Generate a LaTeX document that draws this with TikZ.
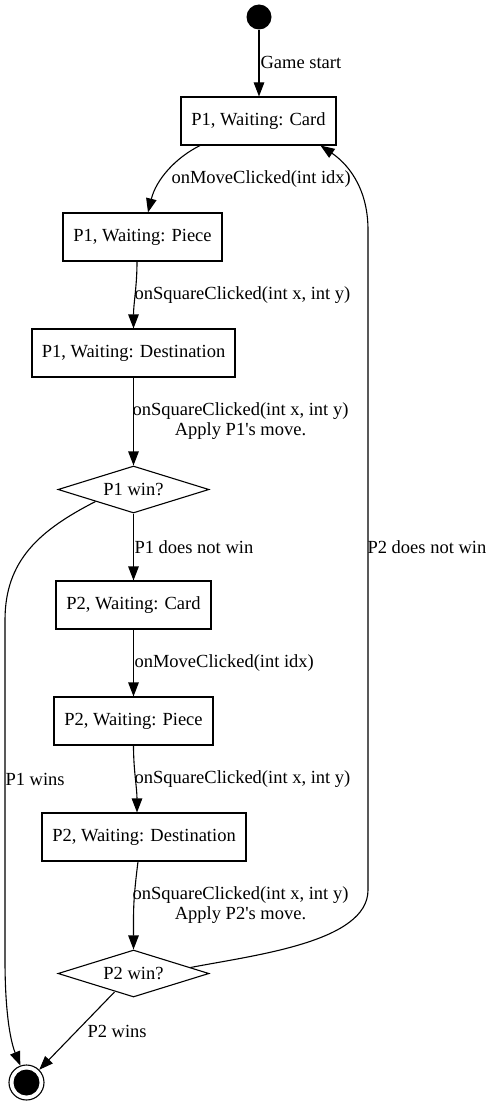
\documentclass[tikz,border=0pt]{standalone}
\usepackage{fontspec}
\setmainfont{Liberation Serif}
\newfontfamily\plainserif{Liberation Serif}[Ligatures=ResetAll]
\usetikzlibrary{arrows.meta,shapes.geometric,calc}
\begin{document}
\begin{tikzpicture}[x=1pt,y=-1pt,line width=1.1pt,
  every node/.style={font=\plainserif\fontsize{18.5}{20}\selectfont},
  state/.style={draw,rectangle,minimum height=48,inner sep=0},
  choice/.style={draw,diamond,aspect=3.2,minimum width=151,minimum height=47,inner sep=0},
  lbl/.style={inner sep=0,anchor=west},
  clbl/.style={inner sep=0,align=center},
  edge/.style={-{Triangle[length=14,width=10.5]}}]
\useasboundingbox (0,0) rectangle (489,1105);
% nodes
\node[circle,fill,minimum size=25,inner sep=0] (start) at (259,17) {};
\node[state,minimum width=155] (p1c) at (258.5,121) {P1, Waiting: Card};
\node[state,minimum width=159] (p1p) at (142.5,237) {P1, Waiting: Piece};
\node[state,minimum width=203] (p1d) at (133.5,353) {P1, Waiting: Destination};
\node[choice] (p1w) at (133.5,489.5) {P1 win?};
\node[state,minimum width=155] (p2c) at (133.5,605) {P2, Waiting: Card};
\node[state,minimum width=159] (p2p) at (133.5,721) {P2, Waiting: Piece};
\node[state,minimum width=204] (p2d) at (144,837) {P2, Waiting: Destination};
\node[choice] (p2w) at (133.5,973.5) {P2 win?};
\node[circle,draw,minimum size=35,inner sep=0,
  path picture={\fill (path picture bounding box.center) circle (13);}] (end) at (26.5,1082.5) {};
% edges
\draw[edge] (start.south) -- (start.south |- p1c.north);
\node[lbl] (l1) at (260,62) {Game start};

\draw[edge] ($(p1c.south)+(-58.5,0)$) .. controls (175,158) and (156,180) .. ($(p1p.north)+(5.5,0)$);
\node[lbl] (l2) at (171,179) {onMoveClicked(int idx)};

\draw[edge] ($(p1p.south)+(-5.5,0)$) .. controls +(0,25) and +(0,-25) .. (p1d.north);
\node[lbl] (l3) at (134,295) {onSquareClicked(int x, int y)};

\draw[edge] (p1d.south) -- (p1w.north);
\node[clbl] (l4) at (240.5,421) {onSquareClicked(int x, int y)\\Apply P1's move.};

\draw[edge] (p1w.south) -- (p2c.north);
\node[lbl] (l5) at (134,547) {P1 does not win};

\draw[edge] (p2c.south) -- (p2p.north);
\node[lbl] (l6) at (134,663) {onMoveClicked(int idx)};

\draw[edge] (p2p.south) .. controls +(0,25) and +(0,-25) .. ($(p2d.north)+(-7,0)$);
\node[lbl] (l7) at (134,779) {onSquareClicked(int x, int y)};

\draw[edge] ($(p2d.south)+(-6,0)$) .. controls +(-5,40) and +(0,-40) .. (p2w.north);
\node[clbl] (l8) at (240.5,905) {onSquareClicked(int x, int y)\\Apply P2's move.};

\draw[edge] ($(p2w.center)+(-19,18.5)$) -- (end.45);
\node[lbl] (l9) at (87,1031) {P2 wins};

\draw[edge] (p1w.south west) .. controls (40,530) and (5,560) .. (5,620) -- (5,960)
  .. controls (5,1010) and (10,1040) .. (end.110);
\node[lbl] (l10) at (5,779) {P1 wins};

\draw[edge] ($(p2w.east)!0.25!(p2w.north)$) .. controls (255,955) and (368,942) .. (368,890)
  -- (368,230) .. controls (368,185) and (345,162) .. ($(p1c.south)+(62,0)$);
\node[lbl] (l11) at (367,547) {P2 does not win};
\end{tikzpicture}
\end{document}
